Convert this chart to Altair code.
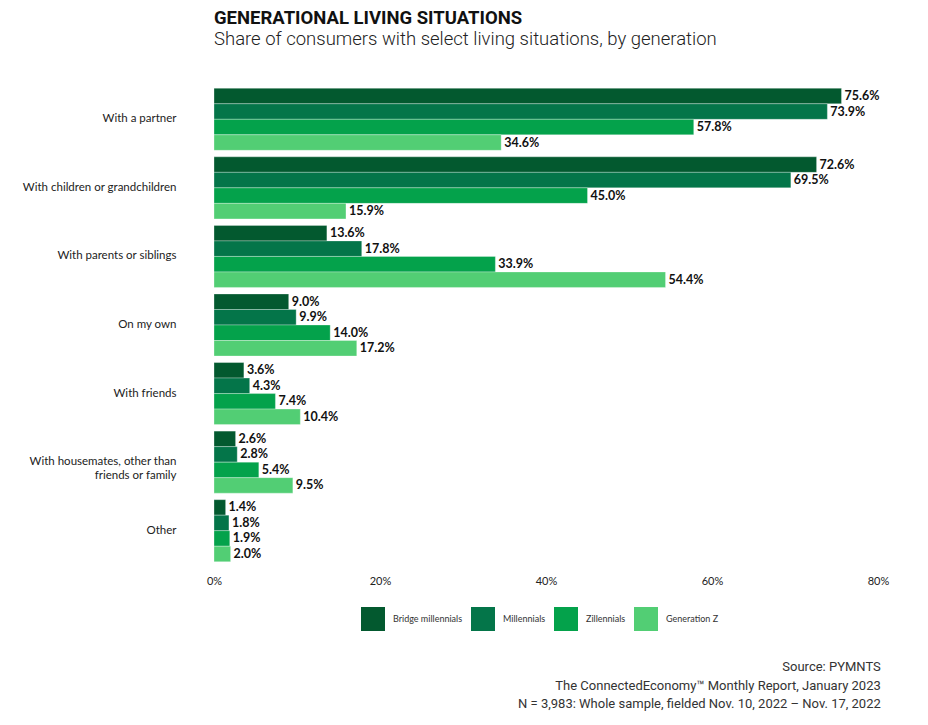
import altair as alt
import pandas as pd

categories = [
    "With a partner",
    "With children or grandchildren",
    "With parents or siblings",
    "On my own",
    "With friends",
    "With housemates, other than friends or family",
    "Other",
]
generations = ["Bridge millennials", "Millennials", "Zillennials", "Generation Z"]
colors = ["#03592F", "#047549", "#04A24B", "#52CE74"]

bridge = [75.6, 72.6, 13.6, 9.0, 3.6, 2.6, 1.4]
millennials = [73.9, 69.5, 17.8, 9.9, 4.3, 2.8, 1.8]
zillennials = [57.8, 45.0, 33.9, 14.0, 7.4, 5.4, 1.9]
genz = [34.6, 15.9, 54.4, 17.2, 10.4, 9.5, 2.0]

x_ticks = [0, 20, 40, 60, 80]

rows = []
for series, gen in zip([bridge, millennials, zillennials, genz], generations):
    for cat, v in zip(categories, series):
        rows.append({"Category": cat, "Generation": gen, "Share": v,
                     "Label": f"{v:.1f}%"})
df = pd.DataFrame(rows)

FONT = "Lato"

y_enc = alt.Y(
    "Category:N",
    sort=categories,
    scale=alt.Scale(paddingInner=0.095, paddingOuter=0.0475),
    axis=alt.Axis(
        title=None, ticks=False, domain=False, labelPadding=38,
        labelFont=FONT, labelFontSize=11.5, labelColor="#222222",
        labelLimit=300,
        labelExpr="indexof(datum.label, 'housemates') >= 0 ? ['With housemates, other than', 'friends or family'] : datum.label",
    ),
)
yoff = alt.YOffset("Generation:N", sort=generations)
x_enc = alt.X(
    "Share:Q",
    scale=alt.Scale(domain=[0, 80], nice=False),
    axis=alt.Axis(
        title=None, values=x_ticks, grid=False, ticks=False, domain=False,
        labelExpr="datum.value + '%'", labelFont=FONT, labelFontSize=11,
        labelColor="#222222", labelPadding=10, labelFlush=False,
    ),
)

bars = alt.Chart(df).mark_bar(stroke="#ffffff", strokeWidth=0.5, strokeOpacity=0.6).encode(
    y=y_enc,
    yOffset=yoff,
    x=x_enc,
    color=alt.Color(
        "Generation:N",
        sort=generations,
        scale=alt.Scale(domain=generations, range=colors),
        legend=alt.Legend(
            title=None, orient="none", direction="horizontal",
            legendX=147, legendY=522,
            symbolType="square", symbolSize=576, symbolStrokeWidth=0,
            symbolOpacity=1,
            labelFont=FONT, labelFontSize=9, labelColor="#333333",
            labelOffset=8, columnPadding=8,
        ),
    ),
)

labels = alt.Chart(df).mark_text(
    align="left", baseline="middle", dx=3, font=FONT, fontSize=12.5,
    fontWeight="bold", color="#111111",
).encode(
    y=alt.Y("Category:N", sort=categories),
    yOffset=yoff,
    x=alt.X("Share:Q"),
    text="Label:N",
)

main = alt.layer(bars, labels).properties(
    width=664,
    height=480,
    title=alt.TitleParams(
        text="GENERATIONAL LIVING SITUATIONS",
        subtitle="Share of consumers with select living situations, by generation",
        anchor="start", frame="group", orient="top",
        font="Roboto", fontSize=18.5, fontWeight="bold", color="#111111",
        subtitleFont="Roboto", subtitleFontSize=18.5, subtitleFontWeight=300,
        subtitleColor="#222222", subtitlePadding=2, offset=37,
    ),
)

chart = alt.vconcat(main).properties(
    title=alt.TitleParams(
        text=["Source: PYMNTS",
              "The ConnectedEconomy\u2122 Monthly Report, January 2023",
              "N = 3,983: Whole sample, fielded Nov. 10, 2022 \u2013 Nov. 17, 2022"],
        orient="bottom", anchor="end", font="Roboto", fontSize=13,
        fontWeight="normal", color="#333333", lineHeight=18.5, offset=30, dx=-8,
    ),
    padding={"left": 14, "top": 1, "right": 5, "bottom": 5},
).configure_view(stroke=None)

chart.save("out.html", embed_options={"renderer": "svg", "actions": False})
